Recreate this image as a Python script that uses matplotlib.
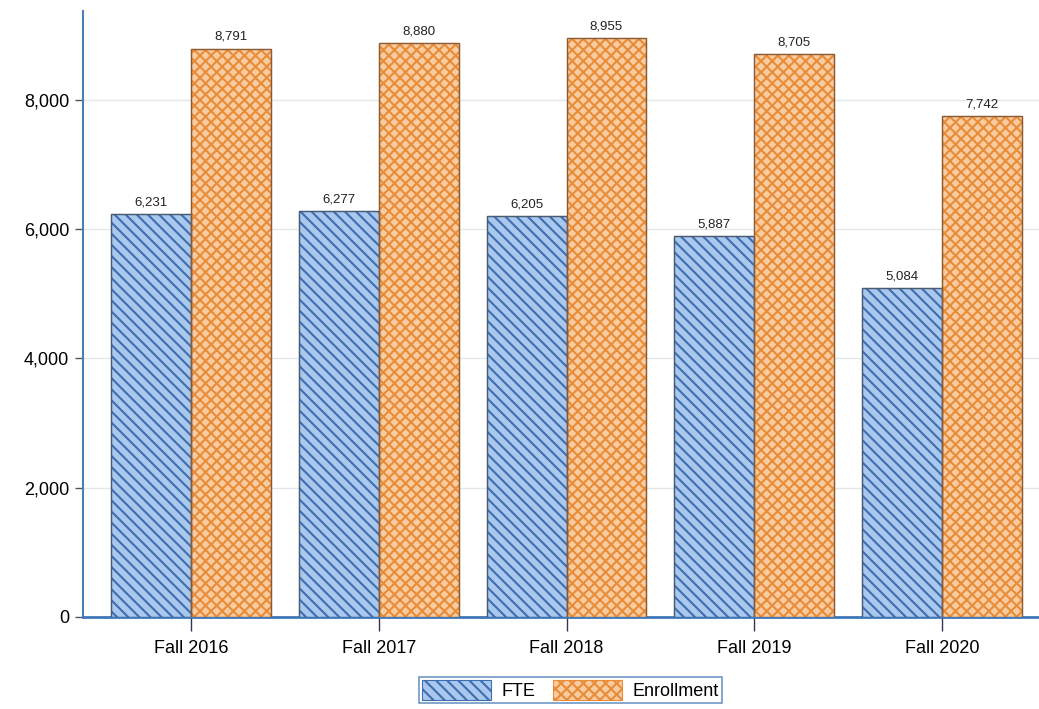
import matplotlib
matplotlib.use("Agg")
import matplotlib.pyplot as plt
import numpy as np

categories = ["Fall 2016", "Fall 2017", "Fall 2018", "Fall 2019", "Fall 2020"]
fte = [6231, 6277, 6205, 5887, 5084]
enrollment = [8791, 8880, 8955, 8705, 7742]

plt.rcParams['font.family'] = ['Liberation Sans', 'DejaVu Sans']
plt.rcParams['hatch.linewidth'] = 1.5

fig = plt.figure(figsize=(10.39, 7.09), dpi=100)
ax = fig.add_axes([0.08, 0.13, 0.92, 0.855])

x = np.arange(len(categories))
w = 0.425

b1 = ax.bar(x - w / 2, fte, w, color='#aac8ee', edgecolor='#3d6fb0',
            hatch='\\\\\\', linewidth=0.8, label='FTE', zorder=3)
b2 = ax.bar(x + w / 2, enrollment, w, color='#f8ccA0', edgecolor='#e88c38',
            hatch='xxx', linewidth=0.8, label='Enrollment', zorder=3)
# outline drawn separately so hatch and border colours differ
ax.bar(x - w / 2, fte, w, fill=False, edgecolor='#4a5a70', linewidth=1.0, zorder=4)
ax.bar(x + w / 2, enrollment, w, fill=False, edgecolor='#8a5a35', linewidth=1.0, zorder=4)

for xi, v in zip(x, fte):
    ax.text(xi - w / 2, v + 90, f"{v:,}", ha='center', va='bottom', fontsize=9.5, color='#222222')
for xi, v in zip(x, enrollment):
    ax.text(xi + w / 2, v + 90, f"{v:,}", ha='center', va='bottom', fontsize=9.5, color='#222222')

ax.set_xlim(-0.574, 4.516)
ax.set_ylim(0, 9380)
ax.set_yticks([0, 2000, 4000, 6000, 8000])
ax.set_yticklabels(["0", "2,000", "4,000", "6,000", "8,000"], fontsize=13)
ax.set_xticks(x)
ax.set_xticklabels(categories, fontsize=13)
ax.yaxis.grid(True, color='#e3e6ea', linewidth=1)
ax.set_axisbelow(True)

for s in ['top', 'right']:
    ax.spines[s].set_visible(False)
ax.spines['left'].set_color('#4a7fb5')
ax.spines['bottom'].set_color('#3f78b8')
ax.spines['left'].set_linewidth(1.5)
ax.spines['bottom'].set_linewidth(2)
ax.tick_params(axis='y', length=6, color='#555555', width=1, pad=4)
ax.tick_params(axis='x', length=10, color='#333355', width=1, pad=7)

leg = ax.legend(handles=[b1, b2], loc='upper center', bbox_to_anchor=(0.51, -0.1),
                ncol=2, frameon=True, fancybox=False, fontsize=13,
                handlelength=3.8, handleheight=1.3, columnspacing=1.0,
                handletextpad=0.6, borderpad=0.15, borderaxespad=0)
leg.get_frame().set_edgecolor('#4a7fb5')
leg.get_frame().set_linewidth(1.2)

fig.savefig("out.png", dpi=100)
